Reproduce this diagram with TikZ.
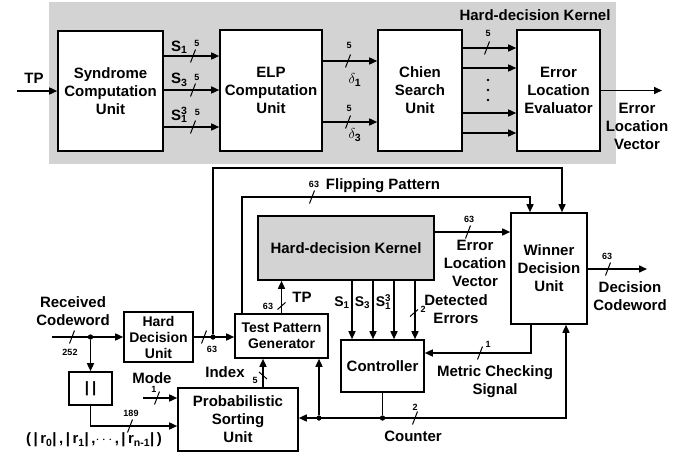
\documentclass[tikz,border=0pt]{standalone}
\usepackage{amsmath}
\usepackage{fontspec}
\setmainfont{Liberation Sans}
\usetikzlibrary{arrows.meta,calc}
\definecolor{kgray}{RGB}{211,211,211}
\newcommand\bsl[4]{\draw[slash] (#1-#3,#2+#4) -- (#1+#3,#2-#4);}
\newcommand\Sot{S\textsubscript{1}\llap{\textsuperscript{3}}}
\begin{document}
\begin{tikzpicture}[x=1pt,y=-1pt,
  box/.style={draw, line width=1.6pt, fill=white, align=center, inner sep=0pt,
    font=\fontsize{15}{18}\selectfont\bfseries},
  sbox/.style={box, font=\fontsize{14}{16}\selectfont\bfseries},
  gbox/.style={box, fill=kgray},
  wire/.style={line width=1.5pt},
  arr/.style={wire, -{Triangle[length=8pt,width=7pt]}},
  lbl/.style={align=center, inner sep=0pt, font=\fontsize{15}{18}\selectfont\bfseries},
  slbl/.style={lbl, font=\fontsize{14}{16}\selectfont\bfseries},
  num/.style={inner sep=0pt, font=\fontsize{9}{10}\selectfont\bfseries},
  dot/.style={circle, fill, inner sep=0pt, minimum size=5pt},
  slash/.style={line width=1pt}]
\useasboundingbox (0,0) rectangle (693,455);

% ---------------- top: hard-decision kernel detail ----------------
\fill[kgray] (49,2) rectangle (616,164);
\node[lbl] (tkt) at (535,15) {Hard-decision Kernel};

\node[box, minimum width=105pt, minimum height=120pt] (syn) at (110.5,91) {Syndrome\\Computation\\Unit};
\node[box, minimum width=102pt, minimum height=121pt] (elp) at (271,90.5) {ELP\\Computation\\Unit};
\node[box, minimum width=84pt, minimum height=121pt] (chien) at (420,90.5) {Chien\\Search\\Unit};
\node[box, minimum width=83pt, minimum height=121pt] (ele) at (558.5,90.5) {Error\\Location\\Evaluator};

\coordinate (tpin) at (17,91);
\draw[arr] (tpin) -- (syn.west);
\node[lbl] (tplbl) at (34,78) {TP};

\draw[arr] (syn.east |- 0,56) -- (elp.west |- 0,56);
\draw[arr] (syn.east |- 0,90) -- (elp.west |- 0,90);
\draw[arr] (syn.east |- 0,127) -- (elp.west |- 0,127);
\bsl{193}{56}{2.5}{6.5}\bsl{193}{90}{2.5}{6.5}\bsl{193}{127}{2.5}{6.5}
\node[lbl, anchor=west] (ls1) at (171,47) {S\textsubscript{1}};
\node[lbl, anchor=west] (ls3) at (171,80) {S\textsubscript{3}};
\node[lbl, anchor=west] (ls13) at (171,115) {\Sot};
\node[num] (n1) at (197,43) {5};
\node[num] (n2) at (197,77) {5};
\node[num] (n3) at (197.5,112) {5};

\draw[arr] (elp.east |- 0,61) -- (chien.west |- 0,61);
\draw[arr] (elp.east |- 0,122) -- (chien.west |- 0,122);
\bsl{348}{61}{2.5}{6.5}\bsl{348}{122}{2.5}{6.5}
\node[num] (n4) at (349,45) {5};
\node[num] (n5) at (349,108) {5};
\node[lbl] (d1) at (355,80) {$\delta_{\mathbf{1}}$};
\node[lbl] (d3) at (355,135) {$\delta_{\mathbf{3}}$};

\foreach \yy in {48,68,113,133}
  \draw[arr] (chien.east |- 0,\yy) -- (ele.west |- 0,\yy);
\bsl{487}{48}{2.5}{6.5}
\node[num] (n6) at (488,33) {5};
\foreach \yy in {80,90,100} \fill (488,\yy) circle (1.3pt);

\coordinate (elvout) at (662,90.5);
\draw[arr] (ele.east) -- (elvout);
\node[lbl] (elvlbl) at (637,126) {Error\\Location\\Vector};

% ---------------- bottom: system ----------------
\node[gbox, minimum width=176pt, minimum height=64pt] (hdk) at (346,248) {Hard-decision Kernel};
\node[box, minimum width=76pt, minimum height=111pt] (win) at (549,268.5) {Winner\\Decision\\Unit};
\node[sbox, minimum width=93pt, minimum height=44pt] (tpg) at (281.5,336) {Test Pattern\\Generator};
\node[sbox, minimum width=69pt, minimum height=50pt] (hdu) at (158.5,337) {Hard\\Decision\\Unit};
\node[box, minimum width=43pt, minimum height=33pt] (absb) at (90.5,388.5) {|\hspace{3pt}|};
\node[box, minimum width=120pt, minimum height=63pt] (psu) at (238,419.5) {Probabilistic\\Sorting\\Unit};
\node[box, minimum width=83pt, minimum height=52pt] (ctrl) at (382.5,366) {Controller};

% received codeword
\coordinate (rin) at (52,337);
\draw[arr] (rin) -- (hdu.west |- rin);
\bsl{72}{337}{2.5}{6.5}
\node[num] (n252) at (70,352) {252};
\node[lbl] (rcv) at (73,311.5) {Received\\Codeword};
\node[dot] (j1) at (90.5,337) {};
\draw[arr] (j1) -- (absb.north);
\coordinate (c1) at (90.5,426);
\draw[arr] (absb.south) -- (c1) -- (psu.west |- c1);
\bsl{130}{426}{2.5}{6.5}
\node[num] (n189) at (131,413) {189};
\node[lbl] (rlbl) at (94,440) {(\,|\,r\textsubscript{0}|\,,\,|\,r\textsubscript{1}|\,,$\cdots$,\,|\,r\textsubscript{n-1}|\,)};

% mode
\coordinate (modein) at (143,398);
\draw[arr] (modein) -- (psu.west |- modein);
\bsl{157}{398}{2.5}{6.5}
\node[num] (nm1) at (154,389) {1};
\node[lbl] (mode) at (152,378) {Mode};

% hdu -> tpg
\draw[arr] (hdu.east) -- (tpg.west |- hdu.east);
\bsl{204}{337}{2.5}{6.5}
\node[num] (n63a) at (212,349) {63};
\node[dot] (j2) at (213,337) {};
\coordinate (k1) at (213,168);
\coordinate (k2) at (562,168);
\draw[arr] (j2) -- (k1) -- (k2) -- (k2 |- win.north);

% flipping pattern
\coordinate (f1) at (242,197);
\coordinate (f2) at (530,197);
\draw[arr] (tpg.north -| f1) -- (f1) -- (f2) -- (f2 |- win.north);
\bsl{312}{197}{2.5}{6.5}
\node[num] (n63b) at (314,184) {63};
\node[lbl] (flip) at (383,186) {Flipping Pattern};

% TP up
\draw[arr] (tpg.north) -- (hdk.south -| tpg.north);
\bsl{281.5}{306}{4}{3.5}
\node[num] (n63c) at (268,306) {63};
\node[lbl] (tp2) at (302,297) {TP};

% hdk -> winner
\draw[arr] (hdk.east |- 0,232) -- (win.west |- 0,232);
\bsl{468}{232}{2.5}{6.5}
\node[num] (n63d) at (469,219) {63};
\node[lbl] (elv2) at (475,263) {Error\\Location\\Vector};

% winner output
\coordinate (dcout) at (647,269);
\draw[arr] (win.east |- dcout) -- (dcout);
\bsl{608}{269}{2.5}{6.5}
\node[num] (n63e) at (607,256) {63};
\node[lbl] (dcw) at (630,296) {Decision\\Codeword};

% syndromes to controller
\foreach \xx in {352,373,394,415}
  \draw[arr] (hdk.south -| \xx,0) -- (ctrl.north -| \xx,0);
\node[slbl] (cs1) at (342,303) {S\textsubscript{1}};
\node[slbl] (cs3) at (362.5,303) {S\textsubscript{3}};
\node[slbl] (cs13) at (383.5,302) {\Sot};
\bsl{414}{313}{4}{3.5}
\node[num] (n2a) at (423,309) {2};
\node[lbl] (det) at (456,309) {Detected\\Errors};

% metric checking signal
\coordinate (m1) at (531,353);
\draw[arr] (win.south -| m1) -- (m1) -- (ctrl.east |- m1);
\bsl{480}{353}{2.5}{6.5}
\node[num] (n1b) at (488,344) {1};
\node[lbl] (met) at (495,382) {Metric Checking\\Signal};

% counter
\node[dot] (j3) at (382.5,418) {};
\node[dot] (j4) at (319,418) {};
\coordinate (cr) at (566,418);
\draw[wire] (ctrl.south) -- (j3);
\draw[arr] (j3) -- (cr) -- (cr |- win.south);
\draw[arr] (j3) -- (psu.east |- j3);
\draw[arr] (j4) -- (tpg.south -| j4);
\bsl{415}{418}{2.5}{6.5}
\node[num] (n2b) at (415,407) {2};
\node[lbl] (cnt) at (413,436) {Counter};

% index
\coordinate (ix) at (263,0);
\draw[arr] (psu.north -| ix) -- (tpg.south -| ix);
\draw[slash] (259,372) -- (267,379);
\node[num] (n5b) at (255,380) {5};
\node[lbl] (idx) at (225,372) {Index};

% redraw junction dots on top
\node[dot] at (j1) {};
\node[dot] at (j2) {};
\node[dot] at (j3) {};
\node[dot] at (j4) {};
\end{tikzpicture}
\end{document}
